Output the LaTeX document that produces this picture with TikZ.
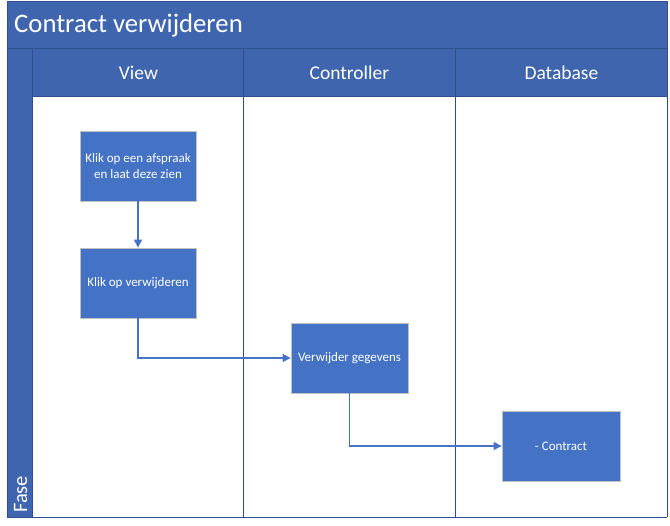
\documentclass[tikz,border=0pt]{standalone}
\usepackage{fontspec}
\setmainfont{Carlito}
\usetikzlibrary{arrows.meta}
\definecolor{band}{HTML}{3F65AF}
\definecolor{laneline}{HTML}{2F5090}
\definecolor{stepfill}{HTML}{4472C4}
\definecolor{stepedge}{HTML}{C0C0C0}
\begin{document}
\begin{tikzpicture}
  [x=1pt,y=-1pt,
   stepbox/.style={rectangle,fill=stepfill,draw=stepedge,line width=0.8pt,
     minimum width=116pt,minimum height=70pt,text=white,font=\fontsize{13}{15.5}\selectfont,
     align=center,inner sep=1pt},
   flow/.style={draw=stepfill,line width=1.1pt,-{Triangle[length=8pt,width=8pt]}},
   header/.style={rectangle,fill=band,draw=laneline,line width=0.8pt,minimum width=212pt,
     minimum height=48pt,text=white,font=\fontsize{19.5}{23}\selectfont,inner sep=0pt}]
  \useasboundingbox (0,0) rectangle (670,526);

  % title band and phase strip
  \node[rectangle,fill=band,draw=laneline,line width=0.8pt,minimum width=660pt,minimum height=47pt,
    anchor=north west,inner sep=0pt] (title) at (7,1) {};
  \node[anchor=west,inner sep=0pt,text=white,font=\fontsize{26.7}{31}\selectfont] (titletext)
    at ([yshift=-1pt]title.west) [xshift=7pt] {Contract verwijderen};
  \node[rectangle,fill=band,draw=laneline,line width=0.8pt,minimum width=25pt,minimum height=469pt,
    anchor=north west,inner sep=0pt] (strip) at (7,48) {};
  \node[rotate=90,anchor=west,inner sep=0pt,text=white,font=\fontsize{20.5}{24}\selectfont] (phase)
    at (20.5,513) {Fase};

  % lane headers
  \node[header,anchor=north west] (view) at (32,48)  {View};
  \node[header,anchor=north west] (ctrl) at (243,48) {Controller};
  \node[header,anchor=north west] (db)   at (455,48) {Database};

  \foreach \x in {243,455,667}
    \draw[laneline,line width=0.8pt] (\x,96) -- (\x,517);
  \draw[laneline,line width=0.8pt] (32,517) -- (667,517);

  % steps
  \node[stepbox] (s1) at (138,166) {Klik op een afspraak\\en laat deze zien};
  \node[stepbox] (s2) at (138,283) {Klik op verwijderen};
  \node[stepbox,minimum width=117pt] (s3) at (349.5,358) {Verwijder gegevens};
  \node[stepbox,minimum width=118pt] (s4) at (561,446) {- Contract};

  \draw[flow] (s1) -- (s2);
  \draw[flow] (s2.south) |- (s3.west);
  \draw[flow] (s3.south) |- (s4.west);

\end{tikzpicture}
\end{document}
